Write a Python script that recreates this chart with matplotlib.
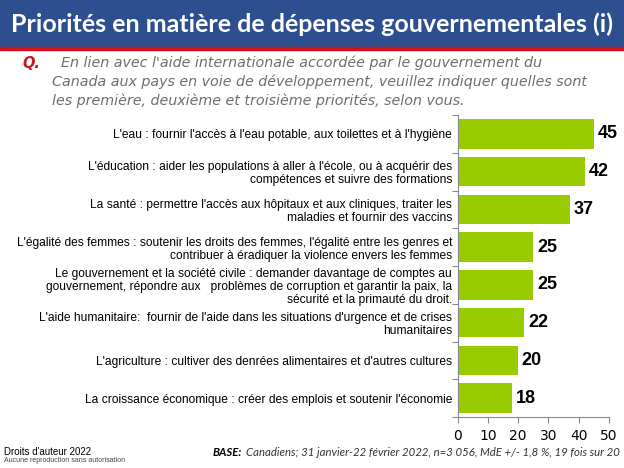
import matplotlib.pyplot as plt
import numpy as np
from matplotlib.patches import Rectangle

# data
labels = [
    "L'eau : fournir l'accès à l'eau potable, aux toilettes et à l'hygiène",
    "L'éducation : aider les populations à aller à l'école, ou à acquérir des\ncompétences et suivre des formations",
    "La santé : permettre l'accès aux hôpitaux et aux cliniques, traiter les\nmaladies et fournir des vaccins",
    "L'égalité des femmes : soutenir les droits des femmes, l'égalité entre les genres et\ncontribuer à éradiquer la violence envers les femmes",
    "Le gouvernement et la société civile : demander davantage de comptes au\ngouvernement, répondre aux   problèmes de corruption et garantir la paix, la\nsécurité et la primauté du droit.",
    "L'aide humanitaire:  fournir de l'aide dans les situations d'urgence et de crises\nhumanitaires",
    "L'agriculture : cultiver des denrées alimentaires et d'autres cultures",
    "La croissance économique : créer des emplois et soutenir l'économie",
]
values = [45, 42, 37, 25, 25, 22, 20, 18]
xticks = [0, 10, 20, 30, 40, 50]

green = '#99cc00'
blue = '#2e4f8f'
red = '#d0121b'

fig = plt.figure(figsize=(6.24, 4.68), dpi=100)

# header band
fig.patches.append(Rectangle((0, 1 - 47/468), 1, 47/468, transform=fig.transFigure,
                             color=blue, zorder=0))
fig.patches.append(Rectangle((0, 1 - 50/468), 1, 3/468, transform=fig.transFigure,
                             color=red, zorder=0))
fig.text(0.5, 1 - 24/468, "Priorités en matière de dépenses gouvernementales (i)",
         color='white', fontsize=18, fontweight='bold', family='Lato',
         ha='center', va='center')

# question
fig.text(22/624, 1 - 63/468, "Q.", color=red, fontsize=10.5, fontweight='bold',
         style='italic', va='center')
q_lines = ["  En lien avec l'aide internationale accordée par le gouvernement du",
           "Canada aux pays en voie de développement, veuillez indiquer quelles sont",
           "les première, deuxième et troisième priorités, selon vous."]
fig.text(52/624, 1 - 56/468, "\n".join(q_lines),
         color='#6e6e6e', fontsize=10.3, style='italic', va='top', ha='left',
         linespacing=1.38, family='DejaVu Sans')

# chart
ax = fig.add_axes([457.7/624, 1 - 417/468, 151.3/624, 302/468])
y = np.arange(len(values))
ax.barh(y, values, height=0.78, color=green, zorder=2)
ax.set_ylim(len(values) - 0.5, -0.5)
ax.set_xlim(0, 50)
ax.set_xticks(xticks)
ax.tick_params(axis='x', labelsize=10, colors='#888888', labelcolor='black', length=4, pad=5)
ax.set_yticks(np.arange(len(values) + 1) - 0.5)
ax.set_yticklabels([])
ax.set_yticks(y, minor=True)
ax.set_yticklabels(labels, minor=True, fontsize=8.65, family='Liberation Sans',
                   linespacing=1.15)
ax.tick_params(axis='y', which='major', length=4, colors='#888888')
ax.tick_params(axis='y', which='minor', length=0, pad=4)
for s in ['top', 'right']:
    ax.spines[s].set_visible(False)
ax.spines['left'].set_color('#888888')
ax.spines['bottom'].set_color('#888888')
for yi, v in zip(y, values):
    ax.text(v + 1.2, yi, str(v), va='center', ha='left', fontsize=13,
            fontweight='bold', family='Liberation Sans')

# footer
fig.text(4/624, 1 - 452/468, "Droits d'auteur 2022", fontsize=7, family='Liberation Sans',
         va='center')
fig.text(4/624, 1 - 461/468, "Aucune reproduction sans autorisation", fontsize=5,
         family='Liberation Sans', color='#444444', va='center')
base = fig.text(620/624, 1 - 452/468,
                "Canadiens; 31 janvier-22 février 2022, n=3 056, MdE +/- 1,8 %, 19 fois sur 20",
                fontsize=8.2, style='italic', ha='right', va='center', family='Lato',
                color='#333333')
r = fig.canvas.get_renderer()
bb = base.get_window_extent(r)
fig.text((bb.x0 - 4) / 624, 1 - 452/468, "BASE:", fontsize=8.2, style='italic',
         fontweight='bold', ha='right', va='center', family='Lato')

fig.savefig('out.png', dpi=100)
